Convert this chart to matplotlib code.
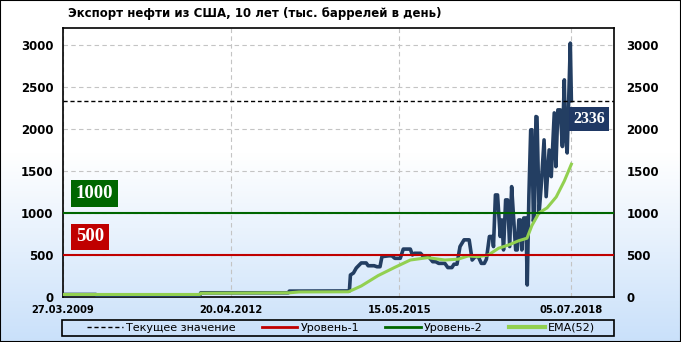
import numpy as np
import pandas as pd
import matplotlib
matplotlib.use("Agg")
import matplotlib.pyplot as plt
import matplotlib.dates as mdates
from matplotlib.patches import Rectangle
from matplotlib.lines import Line2D

# Экспорт нефти из США, тыс. баррелей в день
export_dates = [
    '2009-03-27', '2009-11-01', '2009-11-08', '2011-09-24', '2011-10-01', '2013-05-06',
    '2013-05-13', '2014-06-17', '2014-06-24', '2014-07-14', '2014-08-02', '2014-09-04',
    '2014-10-07', '2014-10-20', '2014-11-29', '2014-12-18', '2015-01-07', '2015-01-20',
    '2015-03-07', '2015-03-27', '2015-04-16', '2015-05-22', '2015-06-11', '2015-07-28',
    '2015-08-11', '2015-08-24', '2015-10-04', '2015-10-24', '2015-11-27', '2015-12-24',
    '2016-01-13', '2016-02-02', '2016-03-14', '2016-04-03', '2016-04-30', '2016-05-14',
    '2016-06-03', '2016-06-23', '2016-07-20', '2016-08-23', '2016-09-12', '2016-10-02',
    '2016-10-23', '2016-11-12', '2016-12-02', '2016-12-16', '2017-01-05', '2017-01-25',
    '2017-02-01', '2017-02-14', '2017-02-28', '2017-03-18', '2017-03-29', '2017-04-09',
    '2017-04-23', '2017-05-06', '2017-05-20', '2017-06-02', '2017-06-16', '2017-06-29',
    '2017-07-09', '2017-07-20', '2017-07-30', '2017-08-09', '2017-08-22', '2017-09-05',
    '2017-09-14', '2017-09-25', '2017-10-07', '2017-10-15', '2017-10-25', '2017-11-01',
    '2017-11-11', '2017-11-18', '2017-12-02', '2017-12-15', '2018-01-04', '2018-01-18',
    '2018-02-07', '2018-02-21', '2018-03-13', '2018-03-24', '2018-04-06', '2018-04-22',
    '2018-05-06', '2018-05-19', '2018-05-26', '2018-06-07', '2018-06-28', '2018-07-05',
]
export_values = [
    30, 30, 18, 18, 50, 50,
    70, 72, 262, 285, 345, 405,
    405, 372, 372, 360, 360, 480,
    490, 490, 460, 460, 570, 570,
    500, 520, 520, 480, 480, 420,
    420, 400, 400, 350, 350, 390,
    390, 600, 680, 680, 440, 480,
    480, 400, 400, 450, 720, 720,
    600, 1214, 1214, 720, 917, 560,
    1155, 1155, 600, 1313, 917, 560,
    560, 917, 917, 560, 940, 940,
    143, 1200, 1988, 1990, 900, 1000,
    2147, 2140, 1000, 1300, 1869, 1194,
    1750, 1432, 2190, 1551, 2226, 2226,
    1790, 2583, 1929, 1714, 3020, 2336,
]

ema_dates = [
    '2009-03-27', '2011-09-24', '2011-10-01', '2013-05-13', '2013-07-17', '2014-06-11',
    '2014-09-04', '2014-12-25', '2015-04-16', '2015-07-28', '2015-11-20', '2016-03-14',
    '2016-06-10', '2016-08-16', '2016-10-23', '2016-12-29', '2017-03-07', '2017-05-13',
    '2017-07-20', '2017-09-12', '2017-10-15', '2017-12-01', '2018-01-24', '2018-03-26',
    '2018-05-19', '2018-07-05',
]
ema_values = [
    30, 30, 45, 50, 60, 62,
    131, 254, 353, 440, 468, 440,
    450, 488, 480, 500, 580, 619,
    670, 699, 850, 1000, 1060, 1190,
    1380, 1580,
]

current_value = 2336
level_1 = 500
level_2 = 1000
tick_dates = ['2009-03-27', '2012-04-20', '2015-05-15', '2018-07-05']
x_end = '2019-04-15'

NAVY = '#233E62'
RED = '#C00000'
GREEN = '#006600'
LIME = '#92D050'

export_dates = pd.to_datetime(export_dates)
ema_dates = pd.to_datetime(ema_dates)
tick_dates = pd.to_datetime(tick_dates)

fig = plt.figure(figsize=(6.81, 3.42), dpi=100)

# фон: белый сверху, голубой снизу
bg = fig.add_axes([0, 0, 1, 1], zorder=-10)
t = np.linspace(0, 1, 300)
k = np.clip((t - 0.45) / 0.55, 0, 1)[:, None]
top = np.array([1.0, 1.0, 1.0])
bottom = np.array([0.79, 0.88, 0.98])
img = (1 - k) * top + k * bottom
bg.imshow(img[:, None, :].repeat(2, axis=1), aspect='auto', extent=[0, 1, 0, 1])
bg.set_axis_off()
fig.patches.append(Rectangle((0, 0), 1, 1, transform=fig.transFigure,
                             fill=False, edgecolor='black', linewidth=1.5))

ax = fig.add_axes([63 / 681, 45 / 342, 551 / 681, 269 / 342])
ax.set_facecolor('none')

ax.plot(export_dates, export_values, color=NAVY, linewidth=2.6, zorder=3,
        solid_joinstyle='round')
ax.plot(ema_dates, ema_values, color=LIME, linewidth=2.2, zorder=4)
ax.axhline(level_1, color=RED, linewidth=1.5, zorder=5)
ax.axhline(level_2, color=GREEN, linewidth=1.5, zorder=5)
ax.axhline(current_value, color='black', linewidth=1, linestyle=(0, (3, 2)), zorder=5)

ax.set_xlim(tick_dates[0], pd.Timestamp(x_end))
ax.set_ylim(0, 3200)
ax.set_yticks(np.arange(0, 3001, 500))
ax.set_xticks(tick_dates)
ax.xaxis.set_major_formatter(mdates.DateFormatter('%d.%m.%Y'))
ax.grid(True, color='#C4C4C4', linestyle=(0, (4, 3)), linewidth=0.8, zorder=0)
ax.set_axisbelow(True)
ax.tick_params(axis='y', length=0, pad=7, labelsize=8.5)
ax.tick_params(axis='x', length=0, pad=6, labelsize=7.2)
for lab in ax.get_xticklabels() + ax.get_yticklabels():
    lab.set_fontweight('bold')
for sp in ax.spines.values():
    sp.set_color('black')
    sp.set_linewidth(1.2)

ax2 = ax.twinx()
ax2.set_ylim(ax.get_ylim())
ax2.set_yticks(np.arange(0, 3001, 500))
ax2.tick_params(axis='y', length=0, pad=9, labelsize=8.5)
for lab in ax2.get_yticklabels():
    lab.set_fontweight('bold')
for sp in ax2.spines.values():
    sp.set_visible(False)

# подписи уровней
serif = 'Liberation Serif'
ax.annotate(str(level_2), xy=(0.013, level_2), xycoords=('axes fraction', 'data'),
            xytext=(4, 8), textcoords='offset points', ha='left', va='bottom',
            fontsize=13.5, fontweight='bold', family=serif, color='white', zorder=6,
            bbox=dict(boxstyle='square,pad=0.25', facecolor=GREEN, edgecolor='none'))
ax.annotate(str(level_1), xy=(0.013, level_1), xycoords=('axes fraction', 'data'),
            xytext=(4, 7), textcoords='offset points', ha='left', va='bottom',
            fontsize=13.5, fontweight='bold', family=serif, color='white', zorder=6,
            bbox=dict(boxstyle='square,pad=0.25', facecolor=RED, edgecolor='none'))
ax.annotate(str(current_value), xy=(export_dates[-1], current_value),
            xytext=(1.5, -7.5), textcoords='offset points', ha='left', va='top',
            fontsize=11.5, fontweight='bold', family=serif, color='white', zorder=6,
            bbox=dict(boxstyle='square,pad=0.25', facecolor='#1F3864', edgecolor='none'))

fig.text(68 / 681, 1 - 14 / 342, 'Экспорт нефти из США, 10 лет (тыс. баррелей в день)',
         fontsize=8.5, fontweight='bold', ha='left', va='center')

# легенда
handles = [
    Line2D([], [], color='black', linewidth=1, linestyle=(0, (3, 2))),
    Line2D([], [], color=RED, linewidth=2),
    Line2D([], [], color=GREEN, linewidth=2),
    Line2D([], [], color=LIME, linewidth=3),
]
labels = ['Текущее значение', 'Уровень-1', 'Уровень-2', 'EMA(52)']
fig.patches.append(Rectangle((62 / 681, 6 / 342), 552 / 681, 16 / 342,
                             transform=fig.transFigure, fill=False,
                             edgecolor='black', linewidth=1.2))
fig.legend(handles, labels, loc='center', ncol=4, mode='expand',
           bbox_to_anchor=(87 / 681, 6 / 342, 508 / 681, 16 / 342),
           frameon=False, fontsize=8, handlelength=3.2, handletextpad=0.3,
           borderpad=0, borderaxespad=0)

fig.savefig('out.png', dpi=100)
